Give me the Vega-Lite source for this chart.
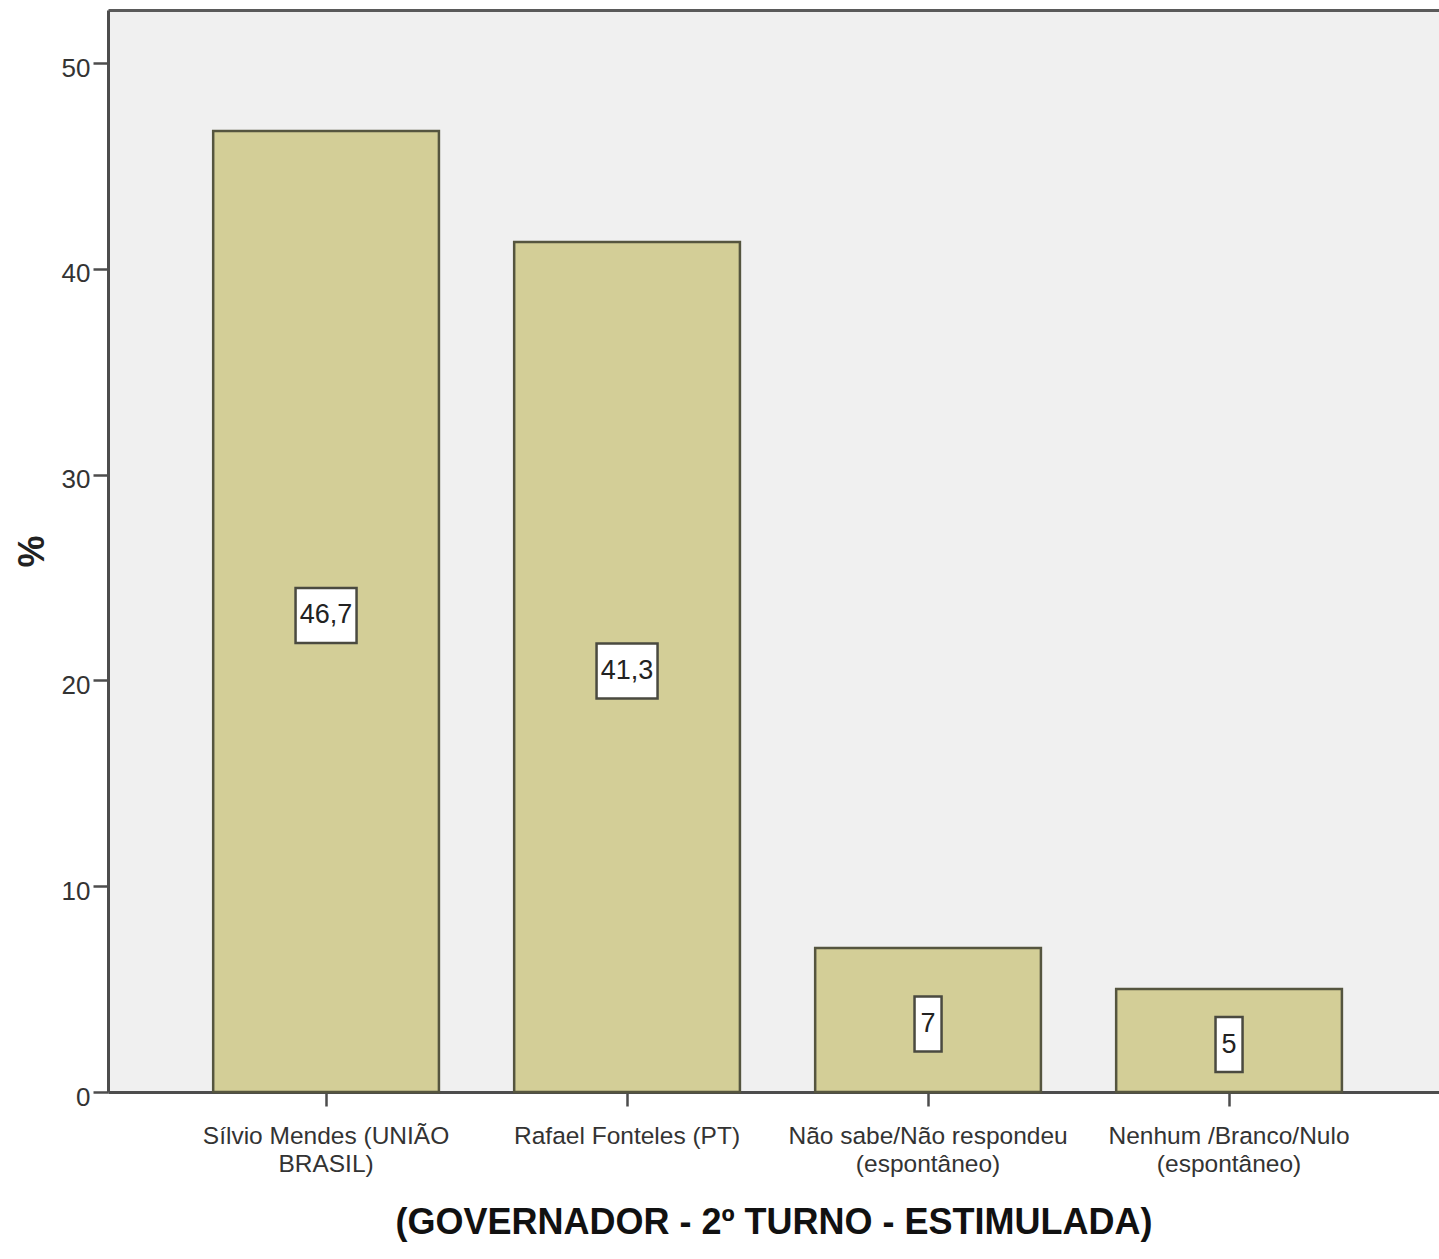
{
  "$schema": "https://vega.github.io/schema/vega-lite/v6.json",
  "width": 1331,
  "height": 1082,
  "autosize": {"type": "none"},
  "padding": {"left": 108, "top": 10, "right": 0, "bottom": 167},
  "background": "white",
  "config": {
    "view": {"fill": "#F0F0F0", "stroke": null},
    "locale": {"number": {"decimal": ",", "thousands": ".", "grouping": [3], "currency": ["R$", ""]}},
    "font": "Liberation Sans, Arial, sans-serif"
  },
  "data": {
    "values": [
      {"categoria": "Sílvio Mendes (UNIÃO BRASIL)", "pct": 46.7},
      {"categoria": "Rafael Fonteles (PT)", "pct": 41.3},
      {"categoria": "Não sabe/Não respondeu (espontâneo)", "pct": 7},
      {"categoria": "Nenhum /Branco/Nulo (espontâneo)", "pct": 5}
    ]
  },
  "layer": [
    {
      "mark": {"type": "bar", "fill": "#D3CE97", "stroke": "#55553F", "strokeWidth": 2.5},
      "encoding": {
        "x": {
          "field": "categoria", "type": "nominal", "sort": null,
          "scale": {"type": "band", "paddingInner": 0.25, "paddingOuter": 0.336, "align": 0.52},
          "axis": {
            "orient": "bottom",
            "labelExpr": "split(replace(replace(datum.value, ' (esp', '|(esp'), 'UNIÃO ', 'UNIÃO|'), '|')",
            "labelAngle": 0,
            "labelFontSize": 24.5,
            "labelColor": "#333333",
            "labelPadding": 18,
            "labelLineHeight": 28,
            "labelLimit": 500,
            "labelOverlap": false,
            "labelBound": false,
            "tickSize": 14,
            "tickColor": "#4d4d4d",
            "tickWidth": 2.5,
            "domainColor": "#4d4d4d",
            "domainWidth": 3,
            "title": "(GOVERNADOR - 2º TURNO - ESTIMULADA)",
            "titleFontSize": 36,
            "titleFontWeight": "bold",
            "titleColor": "#111111",
            "titlePadding": 30
          }
        },
        "y": {
          "field": "pct", "type": "quantitative",
          "scale": {"domain": [0, 52.58], "nice": false, "zero": true},
          "axis": {
            "values": [0, 10, 20, 30, 40, 50],
            "grid": false,
            "domainColor": "#4d4d4d",
            "domainWidth": 3,
            "tickColor": "#4d4d4d",
            "tickWidth": 2.5,
            "tickSize": 15,
            "labelFontSize": 26,
            "labelColor": "#333333",
            "labelPadding": 3,
            "labelOffset": 5,
            "title": "%",
            "titleFontSize": 36,
            "titleFontWeight": "bold",
            "titleColor": "#222222",
            "titlePadding": 10
          }
        }
      }
    },
    {
      "mark": {"type": "point", "filled": true, "fill": "white", "stroke": "#4a4a40", "strokeWidth": 2.5, "size": 3721, "opacity": 1, "yOffset": 4},
      "encoding": {
        "x": {
          "field": "categoria", "type": "nominal", "sort": null,
          "scale": {"type": "band", "paddingInner": 0.25, "paddingOuter": 0.336, "align": 0.52},
          "axis": {"orient": "top", "labels": false, "ticks": false, "title": null, "domainColor": "#5a5a5a", "domainWidth": 3}
        },
        "y": {
          "field": "pct", "type": "quantitative",
          "scale": {"domain": [0, 105.16], "nice": false, "zero": true},
          "axis": null
        },
        "shape": {
          "condition": {"test": "datum.pct >= 10", "value": "M-1,-0.9H1V0.9H-1Z"},
          "value": "M-0.443,-0.9H0.443V0.9H-0.443Z"
        }
      }
    },
    {
      "mark": {"type": "text", "fontSize": 27, "color": "#222222", "yOffset": 4, "baseline": "middle", "align": "center"},
      "encoding": {
        "x": {
          "field": "categoria", "type": "nominal", "sort": null,
          "scale": {"type": "band", "paddingInner": 0.25, "paddingOuter": 0.336, "align": 0.52},
          "axis": null
        },
        "y": {
          "field": "pct", "type": "quantitative",
          "scale": {"domain": [0, 105.16], "nice": false, "zero": true},
          "axis": null
        },
        "text": {"field": "pct", "type": "quantitative", "format": "~g"}
      }
    }
  ],
  "resolve": {"scale": {"x": "independent", "y": "independent"}, "axis": {"x": "independent", "y": "independent"}}
}
